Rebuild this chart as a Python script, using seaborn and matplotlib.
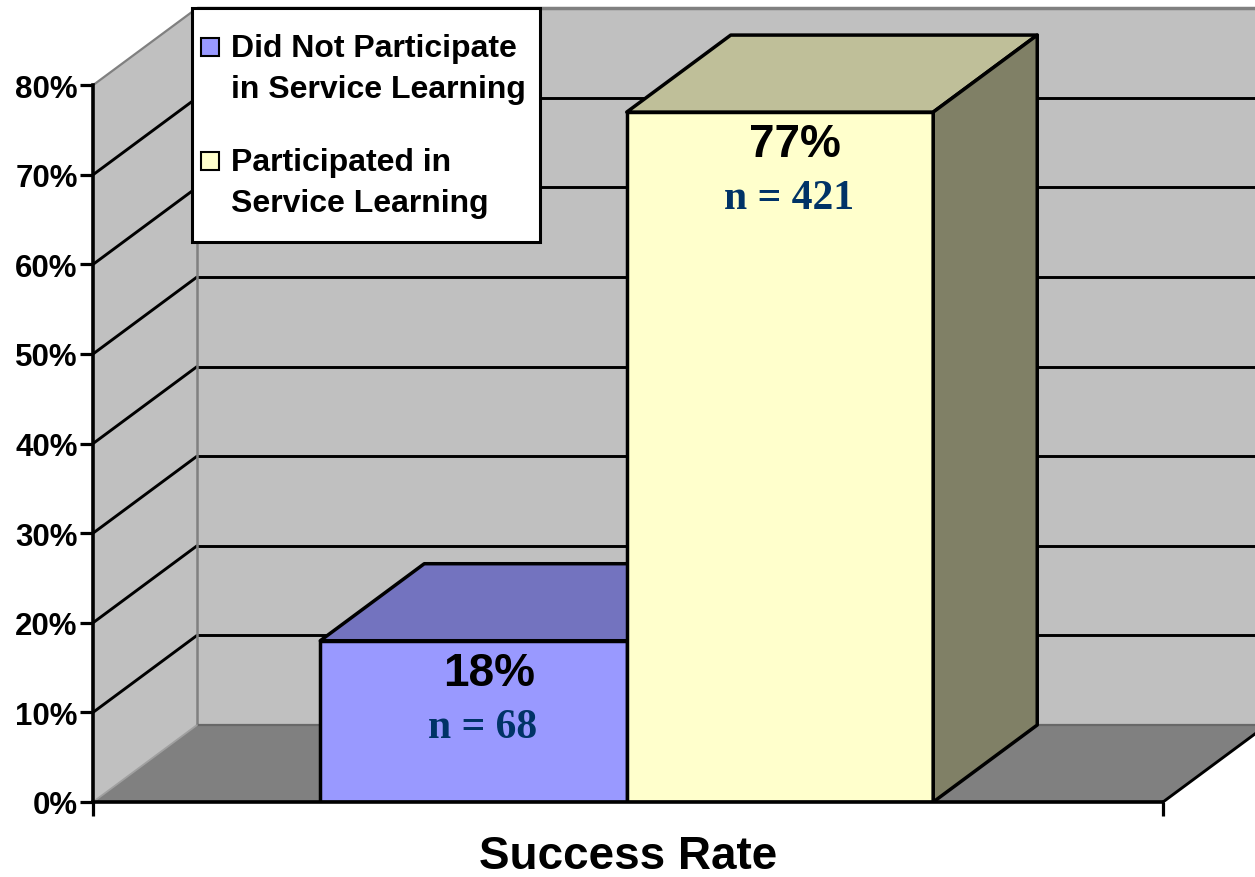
import matplotlib
matplotlib.use("Agg")
import matplotlib.pyplot as plt
import matplotlib.transforms as mtransforms
from matplotlib.patches import Polygon, Rectangle
import pandas as pd
import seaborn as sns

# ---- data -------------------------------------------------------------
groups = ["Did Not Participate\nin Service Learning",
          "Participated in\nService Learning"]
success_rate = [0.18, 0.77]
sample_sizes = [68, 421]
y_ticks = [0.0, 0.1, 0.2, 0.3, 0.4, 0.5, 0.6, 0.7, 0.8]
y_tick_labels = ["0%", "10%", "20%", "30%", "40%", "50%", "60%", "70%", "80%"]
axis_title = "Success Rate"

# ---- styling ----------------------------------------------------------
front_colors = ["#9999ff", "#ffffcc"]
top_colors = ["#7373bf", "#bfbf99"]
side_colors = ["#737399", "#808066"]
wall_color = "#c0c0c0"
floor_color = "#808080"
n_color = "#003366"
EDGE_LW = 2.5
GRID_LW = 2.1

sns.set_theme(style="ticks")
plt.rcParams["font.family"] = ["Liberation Sans", "DejaVu Sans"]

W, H = 1255, 878
fig = plt.figure(figsize=(W / 100, H / 100), dpi=100)
fig.patch.set_facecolor("white")
ax = fig.add_axes([93 / W, 75 / H, (W - 93) / W, 803 / H])
ax.set_facecolor("none")

# ---- front faces of the bars -----------------------------------------
df = pd.DataFrame({"group": groups, "rate": success_rate})
sns.barplot(data=df, x="group", y="rate", hue="group", palette=front_colors,
            saturation=1, width=1.0, edgecolor="black", linewidth=EDGE_LW,
            legend=False, ax=ax)
bars = list(ax.patches)

# scale: one category step = 306.5 px, 100 % = 896 px
X_UNIT, Y_UNIT = 306.5, 896.0
ax.set_xlim((93 - 473.5) / X_UNIT, (W - 473.5) / X_UNIT)
ax.set_ylim(0, 803 / Y_UNIT)

# oblique depth offset and floor extent (data units)
DX, DY = 104 / X_UNIT, 77 / Y_UNIT
X0, X1 = (93 - 473.5) / X_UNIT, (1163 - 473.5) / X_UNIT
YTOP = y_ticks[-1]

# ---- walls and floor --------------------------------------------------
ax.add_patch(Polygon([(X0, 0), (X0 + DX, DY), (X0 + DX, YTOP + DY), (X0, YTOP)],
                     closed=True, fc=wall_color, ec="none", zorder=0))
ax.add_patch(Polygon([(X0 + DX, DY), (X1 + DX, DY), (X1 + DX, YTOP + DY),
                      (X0 + DX, YTOP + DY)],
                     closed=True, fc=wall_color, ec="none", zorder=0))
ax.add_patch(Polygon([(X0, 0), (X1, 0), (X1 + DX, DY), (X0 + DX, DY)],
                     closed=True, fc=floor_color, ec="none", zorder=0.5))

# grid lines on the back and side walls
for t in y_ticks[1:-1]:
    ax.plot([X0 + DX, X1 + DX], [t + DY, t + DY], color="black", lw=GRID_LW,
            zorder=1, solid_capstyle="butt")
    ax.plot([X0, X0 + DX], [t, t + DY], color="black", lw=GRID_LW, zorder=1)
# wall edges
ax.plot([X0, X0 + DX], [YTOP, YTOP + DY], color="#808080", lw=1.6, zorder=1)
ax.plot([X0 + DX, X1 + DX], [YTOP + DY, YTOP + DY], color="#808080", lw=2.5, zorder=1)
ax.plot([X0 + DX, X0 + DX], [DY, YTOP + DY], color="#808080", lw=1.8, zorder=1)
ax.plot([X0 + DX, X1 + DX], [DY, DY], color="#686868", lw=1.6, zorder=1)
ax.plot([X0, X0 + DX], [0, DY], color="#a0a0a0", lw=1.3, zorder=1)
ax.plot([X1, X1 + DX], [0, DY], color="black", lw=GRID_LW, zorder=1)

# ---- top and side faces of the bars -----------------------------------
for i, bar in enumerate(bars):
    xl = bar.get_x()
    xr = xl + bar.get_width()
    h = bar.get_height()
    z = 3 + i
    bar.set_zorder(z)
    bar.set_joinstyle("round")
    face_z = z - 0.5 if i == 0 else z
    ax.add_patch(Polygon([(xl, h), (xr, h), (xr + DX, h + DY), (xl + DX, h + DY)],
                         closed=True, fc=top_colors[i], ec="black", lw=EDGE_LW,
                         joinstyle="round", zorder=face_z))
    ax.add_patch(Polygon([(xr, 0), (xr + DX, DY), (xr + DX, h + DY), (xr, h)],
                         closed=True, fc=side_colors[i], ec="black", lw=EDGE_LW,
                         joinstyle="round", zorder=face_z))

    cx = xl + bar.get_width() / 2 + 0.05
    ax.annotate(f"{h:.0%}", xy=(cx, h), xytext=(0, -44 * 0.72),
                textcoords="offset points", ha="center", va="baseline",
                fontsize=33, fontweight="bold", color="black", zorder=10)
    ax.annotate(f"n = {sample_sizes[i]}", xy=(cx - 0.02, h),
                xytext=(0, -96 * 0.72), textcoords="offset points",
                ha="center", va="baseline", fontsize=30, fontweight="bold",
                family=["Liberation Serif", "DejaVu Serif"], color=n_color,
                zorder=10)

# ---- axes -------------------------------------------------------------
ax.set_yticks(y_ticks)
ax.set_yticklabels(y_tick_labels)
for lbl in ax.get_yticklabels():
    lbl.set_fontweight("bold")
ax.tick_params(axis="y", length=9.4, width=2.3, direction="out",
               labelsize=22.5, pad=1.5, colors="black")
ax.set_xticks([X0, X1])
ax.set_xticklabels([])
ax.tick_params(axis="x", length=10, width=2.3, direction="out", colors="black")

for side in ("top", "right"):
    ax.spines[side].set_visible(False)
ax.spines["left"].set_bounds(0, YTOP)
ax.spines["bottom"].set_bounds(X0, X1)
for side in ("left", "bottom"):
    ax.spines[side].set_linewidth(2.6)
    ax.spines[side].set_color("black")
    ax.spines[side].set_zorder(6)

ax.set_xlabel(axis_title, fontsize=33, fontweight="bold", color="black")
ax.xaxis.set_label_coords((X0 + X1) / 2, -0.040,
                          transform=mtransforms.blended_transform_factory(
                              ax.transData, ax.transAxes))
ax.set_ylabel("")

# ---- legend -----------------------------------------------------------
def fig_xy(px, py):
    return px / W, 1 - py / H

lx, ly = fig_xy(192, 243)
fig.add_artist(Rectangle((lx, ly), 348 / W, 234 / H, transform=fig.transFigure,
                         fc="white", ec="black", lw=2.2, zorder=20))
entry_tops = [48, 162]
for i, label in enumerate(groups):
    sx, sy = fig_xy(201, entry_tops[i] + 9)
    fig.add_artist(Rectangle((sx, sy), 18 / W, 18 / H, transform=fig.transFigure,
                             fc=front_colors[i], ec="black", lw=1.5, zorder=21))
    for j, line in enumerate(label.split("\n")):
        tx, ty = fig_xy(231, entry_tops[i] + 9 + 41 * j)
        fig.text(tx, ty, line, ha="left", va="baseline", fontsize=23,
                 fontweight="bold", color="black", zorder=22)

fig.savefig("out.png", dpi=100, facecolor="white")
